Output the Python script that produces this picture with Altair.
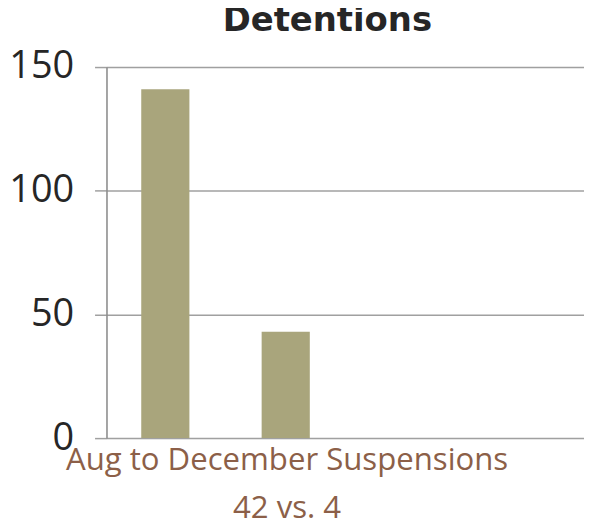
import altair as alt
import pandas as pd

# Data (the category axis has four slots, only two filled)
categories = ["Period 1", "Period 2", "Period 3", "Period 4"]
filled_categories = ["Period 1", "Period 2"]
detentions = [141, 43]
y_ticks = [0, 50, 100, 150]
title_text = "Detentions"
caption_lines = ["Aug to December Suspensions", "42 vs. 4"]

df = pd.DataFrame({"period": filled_categories, "detentions": detentions})

bars = alt.Chart(df).mark_bar(color="#A9A57C").encode(
    x=alt.X(
        "period:N",
        scale=alt.Scale(domain=categories, paddingInner=0.6, paddingOuter=0.283, align=0.51),
        axis=alt.Axis(
            title=caption_lines,
            labels=False,
            ticks=False,
            domain=False,
            titleFont="Open Sans",
            titleFontSize=31.3,
            titleFontWeight="normal",
            titleColor="#8C5F48",
            titleLineHeight=48,
            titleBaseline="alphabetic",
            titleAlign="center",
            titleAnchor="start",
            titleX=181,
            titleY=32,
        ),
    ),
    y=alt.Y(
        "detentions:Q",
        scale=alt.Scale(domain=[0, 150], nice=False),
        axis=alt.Axis(
            title=None,
            values=y_ticks,
            grid=True,
            gridColor="#A0A0A0",
            gridWidth=1.5,
            tickSize=12,
            tickColor="#A0A0A0",
            tickWidth=1.5,
            domainColor="#8C8C8C",
            domainWidth=1.5,
            labelFont="Open Sans",
            labelFontSize=38,
            labelColor="#262626",
            labelPadding=21,
        ),
    ),
)

chart = bars.properties(
    width=480,
    height=373,
    title=alt.TitleParams(
        text=title_text,
        font="DejaVu Sans",
        fontSize=34,
        fontWeight="bold",
        color="#262626",
        anchor="middle",
        offset=10,
        dx=-18,
    ),
    padding={"left": 0, "top": -5, "right": 0, "bottom": 0},
).configure_view(stroke=None).configure(background="white")

chart.save("out.html", embed_options={"renderer": "svg", "actions": False})
